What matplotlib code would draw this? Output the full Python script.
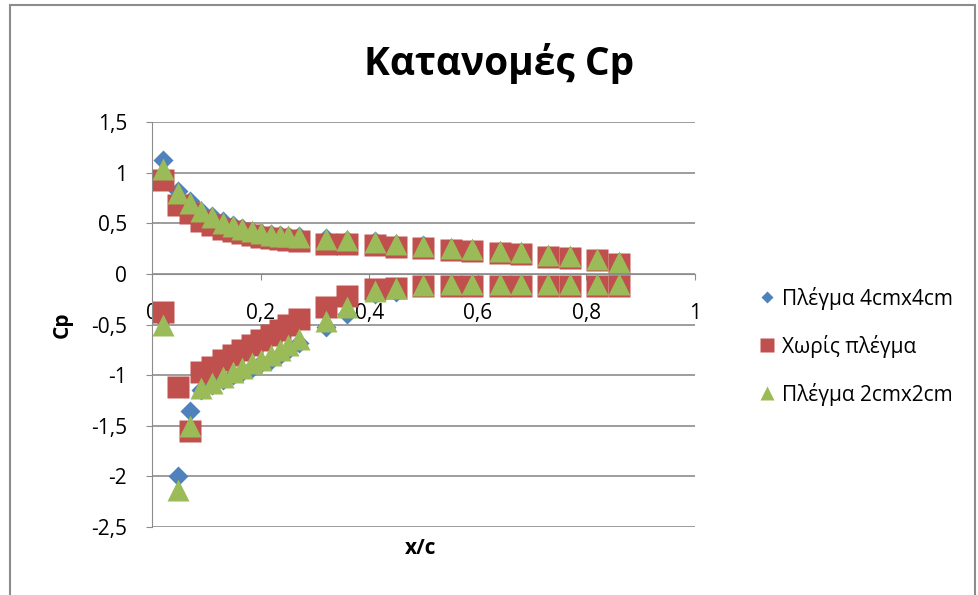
import numpy as np
import matplotlib.pyplot as plt
from matplotlib.patches import Rectangle

plt.rcParams['font.family'] = ['Open Sans', 'DejaVu Sans']

# x/c stations (same for upper and lower surface)
xc = [0.02, 0.047, 0.07, 0.09, 0.11, 0.13, 0.15, 0.165, 0.185, 0.2, 0.22,
      0.235, 0.25, 0.27, 0.32, 0.36, 0.41, 0.45, 0.5, 0.55, 0.59, 0.64,
      0.68, 0.73, 0.77, 0.82, 0.86]

# upper surface
cp_4cm_up = [1.12, 0.82, 0.72, 0.62, 0.57, 0.52, 0.48, 0.45, 0.42, 0.40, 0.39,
             0.38, 0.37, 0.37, 0.35, 0.33, 0.32, 0.30, 0.29, 0.26, 0.25, 0.23,
             0.22, 0.19, 0.18, 0.15, 0.12]
cp_none_up = [0.93, 0.68, 0.60, 0.52, 0.48, 0.44, 0.42, 0.40, 0.38, 0.36, 0.35,
              0.34, 0.33, 0.32, 0.30, 0.30, 0.29, 0.27, 0.26, 0.24, 0.23, 0.21,
              0.20, 0.17, 0.16, 0.14, 0.10]
cp_2cm_up = [1.04, 0.80, 0.70, 0.62, 0.56, 0.50, 0.47, 0.44, 0.42, 0.40, 0.38,
             0.37, 0.37, 0.36, 0.34, 0.33, 0.31, 0.30, 0.28, 0.26, 0.25, 0.23,
             0.22, 0.19, 0.18, 0.15, 0.12]

# lower surface
cp_4cm_lo = [-0.45, -2.0, -1.35, -1.15, -1.10, -1.05, -1.0, -0.97, -0.93, -0.88,
             -0.85, -0.80, -0.75, -0.68, -0.52, -0.40, -0.20, -0.18, -0.12, -0.12,
             -0.12, -0.12, -0.12, -0.12, -0.12, -0.12, -0.11]
cp_none_lo = [-0.38, -1.12, -1.55, -0.97, -0.92, -0.85, -0.80, -0.75, -0.70, -0.65,
              -0.60, -0.55, -0.50, -0.45, -0.33, -0.22, -0.15, -0.14, -0.12, -0.12,
              -0.12, -0.12, -0.12, -0.12, -0.12, -0.12, -0.12]
cp_2cm_lo = [-0.50, -2.13, -1.50, -1.13, -1.08, -1.02, -0.97, -0.93, -0.88, -0.85,
             -0.80, -0.75, -0.70, -0.64, -0.47, -0.33, -0.17, -0.14, -0.11, -0.10,
             -0.10, -0.10, -0.10, -0.10, -0.10, -0.10, -0.10]

labels = ['Πλέγμα 4cmx4cm', 'Χωρίς πλέγμα', 'Πλέγμα 2cmx2cm']
colors = ['#4F81BD', '#C0504D', '#9BBB59']

fig = plt.figure(figsize=(9.79, 5.95), dpi=100)
ax = fig.add_axes([152/979, 1-527/595, (695-152)/979, (527-122)/595])

x2 = xc + xc
ax.plot(x2, cp_4cm_up + cp_4cm_lo, 'D', color=colors[0], ms=10, mec='none', label=labels[0])
ax.plot(x2, cp_none_up + cp_none_lo, 's', color=colors[1], ms=16, mec='none', label=labels[1])
ax.plot(x2, cp_2cm_up + cp_2cm_lo, '^', color=colors[2], ms=16, mec='none', label=labels[2])

ax.set_xlim(0, 1)
ax.set_ylim(-2.5, 1.5)
ax.set_xticks([0, 0.2, 0.4, 0.6, 0.8, 1])
ax.set_xticklabels(['0', '0,2', '0,4', '0,6', '0,8', '1'])
ax.set_yticks(np.arange(-2.5, 1.51, 0.5))
ax.set_yticklabels(['-2,5', '-2', '-1,5', '-1', '-0,5', '0', '0,5', '1', '1,5'])

ax.yaxis.grid(True, color='#8c8c8c', lw=1.2)
ax.set_axisbelow(True)
for s in ['top', 'right']:
    ax.spines[s].set_visible(False)
ax.spines['bottom'].set_position(('data', 0))
ax.spines['bottom'].set_color('#8c8c8c')
ax.spines['left'].set_color('#8c8c8c')
ax.tick_params(axis='y', length=4, color='#8c8c8c', pad=14, labelsize=15)
ax.tick_params(axis='x', length=4, color='#8c8c8c', pad=17, labelsize=15)

# title and axis titles
fig.text(499/979, 1-63/595, 'Κατανομές Cp', fontsize=28, fontweight='bold',
         ha='center', va='center')
fig.text(62/979, 1-325/595, 'Cp', fontsize=15, fontweight='bold', rotation=90,
         ha='center', va='center')
fig.text(421/979, 1-548/595, 'x/c', fontsize=15, fontweight='bold',
         ha='center', va='center')

fig.legend(loc='center left', bbox_to_anchor=(740/979, 1-346/595), frameon=False,
           fontsize=15, markerscale=0.6, handlelength=0.8, handletextpad=0.3,
           labelspacing=1.2)

# outer chart border
fig.patches.append(Rectangle((10/979, -0.01), 965/979, 1-5/595+0.01, transform=fig.transFigure,
                             fill=False, edgecolor='#8c8c8c', lw=1.5))

fig.savefig('out.png', dpi=100)
